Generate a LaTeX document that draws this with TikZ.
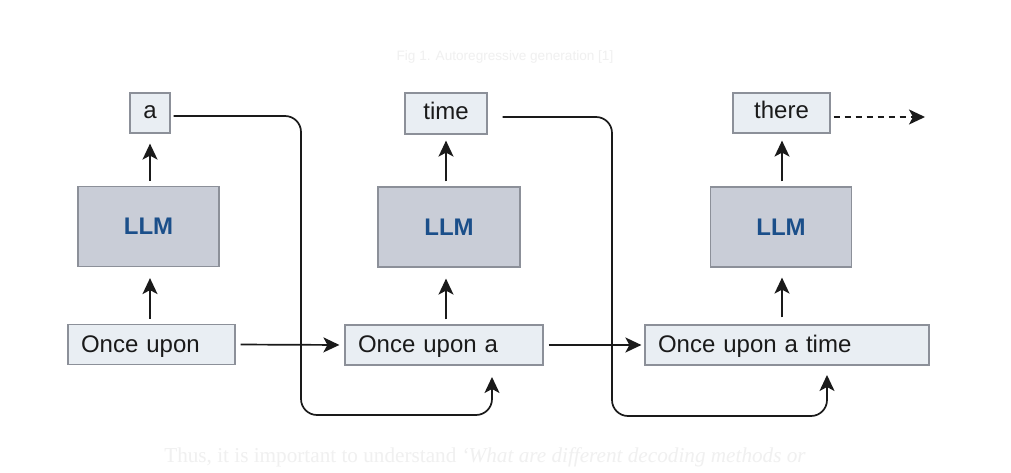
\documentclass[tikz,border=0pt]{standalone}
\usepackage{fontspec}
\setmainfont{Liberation Sans}
\newfontfamily\serifcap{Liberation Serif}
\usetikzlibrary{arrows.meta}
\definecolor{boxfill}{HTML}{E9EEF3}
\definecolor{boxline}{HTML}{8C9099}
\definecolor{llmfill}{HTML}{C9CDD7}
\definecolor{llmtext}{HTML}{1B4F8A}
\definecolor{ink}{HTML}{1A1A1A}
\definecolor{faint}{HTML}{F0F0F0}
\tikzset{
  tok/.style={draw=boxline, fill=boxfill, line width=1.2pt, inner sep=0pt,
    text height=12pt, text depth=0pt,
    font=\fontsize{24}{27}\selectfont, text=ink},
  llm/.style={draw=boxline, fill=llmfill, line width=1.2pt, inner sep=0pt,
    minimum width=141pt, minimum height=80pt,
    font=\fontsize{24}{27}\selectfont\bfseries, text=llmtext},
  inbox/.style={draw=boxline, fill=boxfill, line width=1.2pt, inner xsep=13pt, inner ysep=0pt,
    text height=15pt, text depth=0pt,
    minimum height=40pt, align=left, font=\fontsize{24}{27}\selectfont, text=ink},
  arr/.style={draw=ink, line width=1.7pt, -{Stealth[length=16pt,width=15pt,inset=4pt]}},
  loop/.style={arr, rounded corners=16pt},
  faintcap/.style={text=faint, inner sep=0pt}
}
\begin{document}
\begin{tikzpicture}[x=1pt,y=-1pt]
\useasboundingbox[fill=white] (0,0) rectangle (1011,473);
% faint caption and text
\node[faintcap, font=\fontsize{13.6}{16}\selectfont] (cap) at (505,57) {Fig 1. Autoregressive generation [1]};
\node[faintcap, font=\serifcap\fontsize{21.2}{25}\selectfont] (body) at (485,457)
  {Thus, it is important to understand \itshape ‘What are different decoding methods or};
% outputs
\node[tok, minimum width=40pt, minimum height=40pt] (a) at (150,113) {a};
\node[tok, minimum width=82pt, minimum height=41pt] (time) at (446,113.5) {time};
\node[tok, minimum width=97pt, minimum height=40pt] (there) at (781.5,113) {there};
% LLMs
\node[llm] (L1) at (148.5,226.5) {LLM};
\node[llm, minimum width=142pt] (L2) at (449,227) {LLM};
\node[llm] (L3) at (781,227) {LLM};
% inputs
\node[inbox, text width=141pt] (I1) at (151.5,344.5) {Once upon};
\node[inbox, text width=172pt] (I2) at (444,345) {Once upon a};
\node[inbox, text width=258pt] (I3) at (787,345) {Once upon a time};
% vertical arrows
\draw[arr, shorten <=5pt, shorten >=10pt] (L1.north -| a.south) -- (a.south);
\draw[arr, shorten <=5pt, shorten >=6pt] (L2.north -| time.south) -- (time.south);
\draw[arr, shorten <=5pt, shorten >=7pt] ([xshift=0.5pt]L3.north -| there.south) -- ([xshift=0.5pt]there.south);
\draw[arr, shorten <=5pt, shorten >=11pt] (I1.north -| a.south) -- (L1.south -| a.south);
\draw[arr, shorten <=5pt, shorten >=11pt] (I2.north -| time.south) -- (L2.south -| time.south);
\draw[arr, shorten <=7pt, shorten >=10pt] ([xshift=0.5pt]I3.north -| there.south) -- ([xshift=0.5pt]L3.south -| there.south);
% horizontal arrows
\draw[arr, shorten <=5pt, shorten >=5pt] (I1.east) -- (I2.west);
\draw[arr, shorten <=5pt, shorten >=3pt] (I2.east) -- (I3.west);
\coordinate (dend) at (925,117);
\draw[arr, dash pattern=on 6pt off 5pt, shorten <=3pt] ([yshift=-4pt]there.east) -- (dend);
% feedback loops
\coordinate (k1) at (301,415);
\coordinate (t2) at (492,377);
\coordinate (k2) at (612,416);
\coordinate (t3) at (827,375);
\draw[loop] ([xshift=3pt,yshift=-3pt]a.east) -- ([yshift=-3pt]a.east -| k1) -- (k1) -- (k1 -| t2) -- (t2);
\draw[loop] ([xshift=15pt,yshift=-3.5pt]time.east) -- ([yshift=-3.5pt]time.east -| k2) -- (k2) -- (k2 -| t3) -- (t3);
\end{tikzpicture}
\end{document}
